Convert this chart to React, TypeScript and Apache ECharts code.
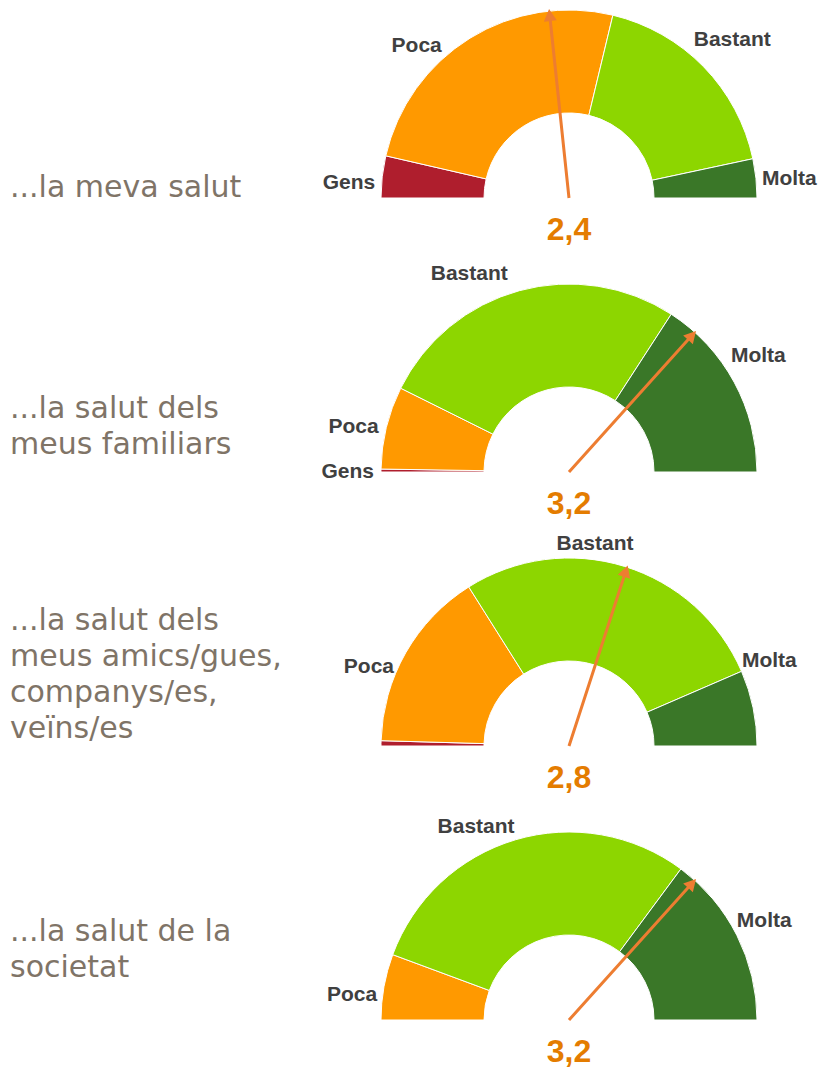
import React, { useEffect, useRef } from 'react';
import * as echarts from 'echarts';

// ---- data ----
const categories = ['Gens', 'Poca', 'Bastant', 'Molta'];
const questions = [
  '...la meva salut',
  '...la salut dels\nmeus familiars',
  '...la salut dels\nmeus amics/gues,\ncompanys/es,\nveïns/es',
  '...la salut de la\nsocietat',
];
const salutPropia = [7.2, 50.3, 35.8, 6.7];
const salutFamiliars = [0.5, 14.2, 53.6, 31.7];
const salutAmics = [0.9, 31.2, 54.9, 13.0];
const salutSocietat = [0, 11.3, 59.0, 29.7];
const mitjanes = [2.4, 3.2, 2.8, 3.2];
const labelShown = [
  [true, true, true, true],
  [true, true, true, true],
  [false, true, true, true],
  [false, true, true, true],
];
const scaleMin = 1;
const scaleMax = 4;

// ---- styling / layout ----
const colors = ['#AF1E2D', '#FF9900', '#8DD600', '#3A7728'];
const series = [salutPropia, salutFamiliars, salutAmics, salutSocietat];
const centerX = 569;
const centerYs = [198, 472, 746, 1020];
const titleTops = [168, 389, 601, 912];
const rOuter = 188;
const rInner = 85;
// label nudges (dx, dy) per gauge and category, styling only
const labelNudges = [
  [[7, 6], [-19, 15], [-21, -21], [-8, 0]],
  [[7, 0], [6, 0], [-5, -9], [-16, -23]],
  [[0, 0], [1, 18], [-75, -14], [-25, -46]],
  [[0, 0], [7, 8], [6, -5], [-13, -11]],
];
const FONT = '"Liberation Sans", Arial, sans-serif';
const TITLE_FONT = '"DejaVu Sans", sans-serif';

export default function App() {
  const ref = useRef<HTMLDivElement>(null);
  useEffect(() => {
    if (!ref.current) return;
    const chart = echarts.init(ref.current, undefined, { renderer: 'svg' });
    const allSeries: any[] = [];
    series.forEach((vals, gi) => {
      const total = vals.reduce((a, b) => a + b, 0);
      const data: any[] = [];
      vals.forEach((v, ci) => {
        if (v <= 0) return;
        data.push({
          name: categories[ci],
          value: v,
          itemStyle: { color: colors[ci] },
          label: { show: labelShown[gi][ci] },
        });
      });
      data.push({
        name: '',
        value: total,
        itemStyle: { color: 'rgba(0,0,0,0)', borderWidth: 0 },
        label: { show: false },
      });
      allSeries.push({
        type: 'pie',
        z: 2,
        center: [centerX, centerYs[gi]],
        radius: [rInner, rOuter],
        startAngle: 180,
        clockwise: true,
        avoidLabelOverlap: false,
        silent: true,
        emphasis: { disabled: true },
        itemStyle: { borderColor: '#ffffff', borderWidth: 1 },
        label: {
          position: 'outside',
          formatter: '{b}',
          fontFamily: FONT,
          fontWeight: 'bold',
          fontSize: 21,
          color: '#404040',
          distanceToLabelLine: 4,
        },
        labelLine: { show: false, length: 10, length2: 0 },
        labelLayout: (params: any) => {
          const ci = categories.indexOf(params.text);
          if (ci < 0) return {};
          const n = labelNudges[gi][ci];
          return { dx: n[0], dy: n[1] };
        },
        data,
      });
      allSeries.push({
        type: 'gauge',
        z: 5,
        center: [centerX, centerYs[gi]],
        radius: rOuter,
        startAngle: 180,
        endAngle: 0,
        min: scaleMin,
        max: scaleMax,
        silent: true,
        axisLine: { show: false },
        splitLine: { show: false },
        axisTick: { show: false },
        axisLabel: { show: false },
        anchor: { show: false },
        title: { show: false },
        progress: { show: false },
        pointer: {
          show: true,
          icon: 'path://M6.5,0 L13,12 L8,12 L8,190 L5,190 L5,12 L0,12 Z',
          length: '101%',
          width: 13,
          offsetCenter: [0, 0],
          keepAspect: false,
          itemStyle: { color: '#ED7D31' },
        },
        detail: {
          show: true,
          offsetCenter: [0, 31],
          fontFamily: FONT,
          fontWeight: 'bold',
          fontSize: 32,
          color: '#E47C00',
          formatter: (v: number) => v.toFixed(1).replace('.', ','),
        },
        data: [{ value: mitjanes[gi] }],
      });
    });
    chart.setOption({
      animation: false,
      backgroundColor: '#ffffff',
      title: questions.map((q, i) => ({
        text: q,
        left: 10,
        top: titleTops[i],
        padding: 0,
        textStyle: {
          fontFamily: TITLE_FONT,
          fontWeight: 'normal',
          fontSize: 30,
          lineHeight: 36,
          color: '#7F7467',
        },
      })),
      series: allSeries,
    });
    return () => chart.dispose();
  }, []);
  return (
    <div
      ref={ref}
      style={{ position: 'absolute', left: 0, top: 0, width: 824, height: 1068 }}
    />
  );
}
